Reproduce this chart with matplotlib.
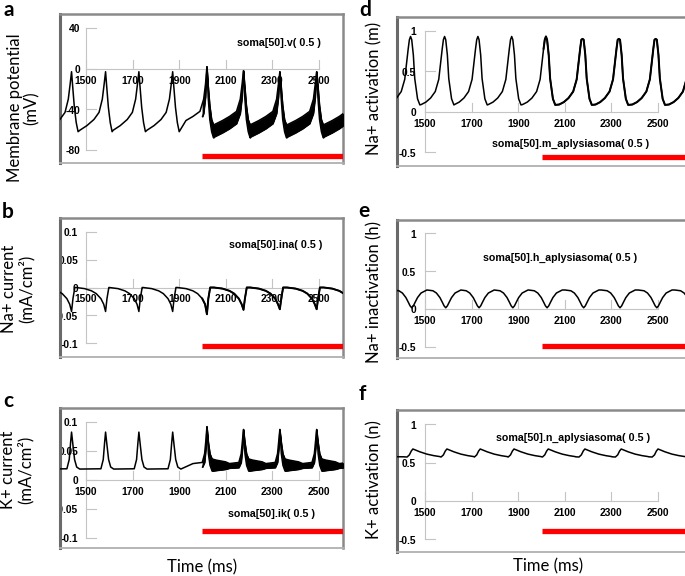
import numpy as np
import matplotlib
matplotlib.use("Agg")
import matplotlib.pyplot as plt
from matplotlib.transforms import ScaledTranslation

W, H, DPI = 685, 576, 100

# ------------------------------------------------------------------ data
time_ticks = [1500, 1700, 1900, 2100, 2300, 2500]
stim_start = 2000
# spike peak times (ms); the last one lies just beyond the visible window
spike_times = [1438, 1584, 1727, 1872, 2019, 2176, 2332, 2490, 2647]

# (a) membrane potential, mV, waveform relative to spike peak (ms)
v_pre_t = [-110, -80, -50, -28, -14, -6, 0, 5, 12, 20, 28]
v_pre = [-60.5, -56, -50, -43, -30, -15, -3, -18, -38, -53, -62]
v_post_t = [-125, -90, -60, -30, -14, -6, 0, 5, 12, 20, 28]
v_post_upper = [-55, -51, -47, -42, -30, -15, -2, -16, -36, -50, -55]
v_post_lower = [-67, -63, -59, -54, -44, -28, -12, -28, -50, -62, -68]
v_peaks = [-3, -3, -3, -3, 2, -2, -3, -3, -3]

# (b) Na+ current, mA/cm2
ina_t = [-127, -90, -60, -40, -20, -8, 0, 6, 14]
ina = [0.0, -0.002, -0.006, -0.011, -0.02, -0.03, -0.043, -0.02, 0.0]
ina_peaks = [-0.043, -0.043, -0.043, -0.043, -0.048, -0.040, -0.039, -0.039, -0.039]

# (c) K+ current, mA/cm2
ik_pre_t = [-110, -20, -10, -4, 0, 6, 13, 22, 35]
ik_pre = [0.0185, 0.019, 0.035, 0.065, 0.0825, 0.06, 0.035, 0.022, 0.0185]
ik_post_t = [-125, -60, -20, -10, -4, 0, 6, 13, 22, 40, 80]
ik_post_upper = [0.029, 0.028, 0.030, 0.045, 0.070, 0.087, 0.065, 0.045, 0.036, 0.034, 0.031]
ik_post_lower = [0.020, 0.020, 0.021, 0.030, 0.055, 0.075, 0.045, 0.025, 0.015, 0.016, 0.018]
ik_peaks = [0.0825, 0.0825, 0.0825, 0.0825, 0.092, 0.087, 0.087, 0.087, 0.087]

# (d) Na+ activation m
m_t = [-100, -80, -60, -40, -25, -10, -5, 0, 5, 12, 18, 30, 40]
m = [0.09, 0.12, 0.17, 0.25, 0.40, 0.78, 0.89, 0.93, 0.89, 0.70, 0.41, 0.16, 0.085]
m_peaks = [0.93, 0.93, 0.93, 0.93, 0.93, 0.90, 0.90, 0.90, 0.90]

# (e) Na+ inactivation h (minimum ~5 ms after the spike peak)
h_t = [-100, -75, -50, -35, -20, -10, -2, 5, 12, 20, 30, 45, 70]
h = [0.24, 0.25, 0.24, 0.21, 0.15, 0.09, 0.04, 0.015, 0.04, 0.09, 0.15, 0.21, 0.25]

# (f) K+ activation n
n_t = [-145, -30, -15, -5, 3, 10, 20, 40, 70, 100, 125]
n = [0.578, 0.575, 0.572, 0.60, 0.65, 0.677, 0.665, 0.64, 0.61, 0.59, 0.578]

titles = ["soma[50].v( 0.5 )", "soma[50].ina( 0.5 )", "soma[50].ik( 0.5 )",
          "soma[50].m_aplysiasoma( 0.5 )", "soma[50].h_aplysiasoma( 0.5 )",
          "soma[50].n_aplysiasoma( 0.5 )"]
ylabels = ["Membrane potential\n(mV)", "Na+ current\n(mA/cm\u00b2)", "K+ current\n(mA/cm\u00b2)",
           "Na+ activation (m)", "Na+ inactivation (h)", "K+ activation (n)"]
panel_letters = ["a", "b", "c", "d", "e", "f"]
yticks_a = [40, 0, -40, -80]
yticks_bc = [0.1, 0.05, 0, -0.05, -0.1]
yticks_def = [1, 0.5, 0, -0.5]


def fmt(v):
    if float(v).is_integer():
        return str(int(v))
    return ("%g" % v)


def assemble(pre_t, pre_v, post_t=None, post_v=None, key_t=0, key_vals=None):
    if post_t is None:
        post_t, post_v = pre_t, pre_v
    ts, vs = [], []
    last = -np.inf
    for i, p in enumerate(spike_times):
        rt, rv = (pre_t, pre_v) if p < stim_start else (post_t, post_v)
        rv = list(rv)
        if key_vals is not None:
            rv[rt.index(key_t)] = key_vals[i]
        for t, v in zip(rt, rv):
            if p + t > last:
                ts.append(p + t)
                vs.append(v)
                last = p + t
    return np.array(ts, float), np.array(vs, float)


# ------------------------------------------------------------------ figure
plt.rcParams['font.family'] = ['Liberation Sans', 'DejaVu Sans']
fig = plt.figure(figsize=(W / DPI, H / DPI), dpi=DPI)
fig.patch.set_facecolor('white')

AXC = '#c4c4c4'
TICKFONT = dict(family='Liberation Sans', weight='bold', size=7.4)


def make_panel(frame, x1500, x2500, ytop, ytop_px, ybot, ybot_px, yticks, lab_off):
    l, t, r, b = frame
    ax = fig.add_axes([l / W, 1 - b / H, (r - l) / W, (b - t) / H])
    mpp = 1000.0 / (x2500 - x1500)
    ax.set_xlim(1500 - (x1500 - l) * mpp, 1500 + (r - x1500) * mpp)
    vpp = (ytop - ybot) / (ybot_px - ytop_px)
    ax.set_ylim(ybot - (b - ybot_px) * vpp, ytop + (ytop_px - t) * vpp)
    ax.set_xticks([])
    ax.set_yticks([])
    ax.spines['left'].set_color('#6a6a6a'); ax.spines['left'].set_linewidth(2.2)
    ax.spines['top'].set_color('#8a8a8a'); ax.spines['top'].set_linewidth(1.8)
    ax.spines['right'].set_color('#8a8a8a'); ax.spines['right'].set_linewidth(1.8)
    ax.spines['bottom'].set_color('#b0b0b0'); ax.spines['bottom'].set_linewidth(1.3)
    # NEURON-style axes
    ax.plot([1500, 1500], [yticks[0], yticks[-1]], color=AXC, lw=0.8, zorder=1)
    ax.plot([1500, 2500], [0, 0], color=AXC, lw=0.8, zorder=1)
    tick_dx = 10 * mpp
    tick_dy = 9 * vpp
    for yv in yticks:
        ax.plot([1500, 1500 + tick_dx], [yv, yv], color=AXC, lw=0.8, zorder=1)
        ax.text(1500, yv, fmt(yv), ha='right', va='center', clip_on=True, zorder=2,
                transform=ax.transData + ScaledTranslation(-lab_off / DPI, -1.5 / DPI, fig.dpi_scale_trans),
                **TICKFONT)
    for xv in time_ticks:
        ax.plot([xv, xv], [0, tick_dy], color=AXC, lw=0.8, zorder=1)
        ax.text(xv, 0, str(xv), ha='center', va='center', clip_on=True, zorder=2,
                transform=ax.transData + ScaledTranslation(0, -12 / DPI, fig.dpi_scale_trans),
                **TICKFONT)
    return ax


def red_bar(ax, y):
    ax.plot([stim_start, ax.get_xlim()[1] + 50], [y, y], color='#ff0000', lw=3.8,
            solid_capstyle='butt', zorder=4)


def band(ax, t, up, lo):
    sel = t > stim_start
    tt = np.concatenate([[stim_start], t[sel]])
    uu = np.concatenate([[np.interp(stim_start, t, up)], up[sel]])
    ll = np.concatenate([[np.interp(stim_start, t, lo)], lo[sel]])
    ax.fill_between(tt, ll, uu, color='black', lw=0.6, zorder=3)
    ax.plot(tt, ll, color='black', lw=1.0, zorder=3)


LX = (86, 319)
RX = (425, 658)

# (a)
ax = make_panel((60, 14, 343, 163), *LX, 40, 28, -80, 150, yticks_a, 6)
t_a, v_up = assemble(v_pre_t, v_pre, v_post_t, v_post_upper, 0, v_peaks)
_, v_lo = assemble(v_pre_t, v_pre, v_post_t, v_post_lower, 0, v_peaks)
ax.plot(t_a, v_up, color='black', lw=1.1, zorder=3)
band(ax, t_a, v_up, v_lo)
red_bar(ax, -86)

# (b)
ax = make_panel((60, 218, 343, 357), *LX, 0.1, 231.7, -0.1, 343.3, yticks_bc, 8)
t_b, i_b = assemble(ina_t, ina, key_t=0, key_vals=ina_peaks)
ax.plot(t_b, i_b, color='black', lw=1.1, zorder=3)
sel = t_b >= 1990
ax.plot(t_b[sel], i_b[sel], color='black', lw=1.4, zorder=3)
red_bar(ax, -0.1048)

# (c)
ax = make_panel((60, 408, 343, 548), *LX, 0.1, 422, -0.1, 537.5, yticks_bc, 8)
t_c, k_up = assemble(ik_pre_t, ik_pre, ik_post_t, ik_post_upper, 0, ik_peaks)
_, k_lo = assemble(ik_pre_t, ik_pre, ik_post_t, ik_post_lower, 0, ik_peaks)
ax.plot(t_c, k_up, color='black', lw=1.1, zorder=3)
band(ax, t_c, k_up, k_lo)
red_bar(ax, -0.0887)

# (d)
ax = make_panel((397, 17, 690, 166), *RX, 1, 30.8, -0.5, 152.3, yticks_def, 9)
t_d, m_d = assemble(m_t, m, key_t=0, key_vals=m_peaks)
ax.plot(t_d, m_d, color='black', lw=1.1, zorder=3)
sel = t_d >= 1995
ax.plot(t_d[sel], m_d[sel], color='black', lw=1.45, zorder=3)
red_bar(ax, -0.558)

# (e)
ax = make_panel((397, 220, 690, 358), *RX, 1, 233.3, -0.5, 346.7, yticks_def, 9)
t_e, h_e = assemble(h_t, h)
ax.plot(t_e, h_e, color='black', lw=1.1, zorder=3)
red_bar(ax, -0.49)

# (f)
ax = make_panel((397, 410, 690, 552), *RX, 1, 424.3, -0.5, 539, yticks_def, 9)
t_f, n_f = assemble(n_t, n)
ax.plot(t_f, n_f, color='black', lw=1.1, zorder=3)
red_bar(ax, -0.395)

# ------------------------------------------------------------------ texts
def ftext(x, y, s, **kw):
    fig.text(x / W, 1 - y / H, s, **kw)

title_pos = [(279, 43), (276, 245), (272, 514), (571, 144), (560, 258), (573, 438)]
for (x, y), s in zip(title_pos, titles):
    ftext(x, y, s, ha='center', va='center', family='Liberation Sans', weight='bold', size=7.7)

LBL = dict(family='Lato', size=12, rotation=90, ha='center', va='center',
           multialignment='center', linespacing=1.05)
ylab_pos = [(23, 108), (18, 289), (17, 470), (374, 88), (374, 292), (374, 480)]
for (x, y), s in zip(ylab_pos, ylabels):
    ftext(x, y, s, **LBL)

letter_pos = [(9, 10), (8, 212), (8, 401), (365, 10), (364, 211), (362, 394)]
for (x, y), s in zip(letter_pos, panel_letters):
    ftext(x, y, s, ha='center', va='center', family='Lato', weight='bold', size=15)

ftext(202, 567, "Time (ms)", ha='center', va='center', family='Lato', size=12)
ftext(548, 566, "Time (ms)", ha='center', va='center', family='Lato', size=12)

fig.savefig("out.png", dpi=DPI, facecolor='white')
